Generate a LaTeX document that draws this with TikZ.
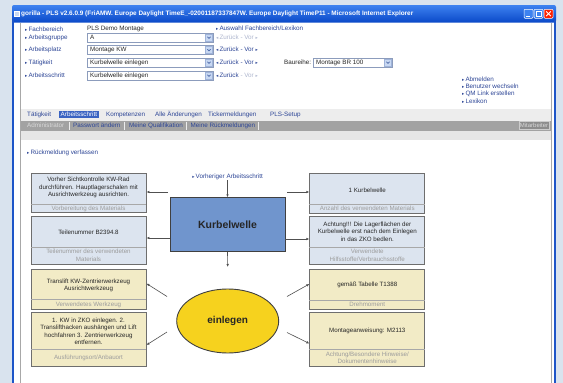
\documentclass[tikz,border=0pt]{standalone}
\usepackage{fontspec}
\setmainfont{Liberation Sans}
\newfontfamily\symf{DejaVu Sans}
\usetikzlibrary{arrows.meta,shapes.geometric}

\definecolor{bgout}{HTML}{D9E3EE}
\definecolor{xpdark}{HTML}{0A48C8}
\definecolor{xplight}{HTML}{3D82F0}
\definecolor{xpborder}{HTML}{1D55C8}
\definecolor{framegray}{HTML}{A8A8A8}
\definecolor{linkc}{HTML}{2C4596}
\definecolor{inact}{HTML}{AEB6CE}
\definecolor{ddline}{HTML}{8C9CBC}
\definecolor{ddbtn}{HTML}{C8D8F2}
\definecolor{ddbtnline}{HTML}{9FB3D9}
\definecolor{chevc}{HTML}{4B68A8}
\definecolor{tabbg}{HTML}{EDEDED}
\definecolor{subbg}{HTML}{A2A2A2}
\definecolor{band3}{HTML}{E6E6E6}
\definecolor{tabsel}{HTML}{3A63C2}
\definecolor{boxblue}{HTML}{DCE4EF}
\definecolor{boxyel}{HTML}{F2EBC6}
\definecolor{boxline}{HTML}{6E6E6E}
\definecolor{capc}{HTML}{9C9C9C}
\definecolor{kblue}{HTML}{7095CD}
\definecolor{eyel}{HTML}{F6D21E}
\definecolor{connc}{HTML}{505050}

\newcommand\mytri{{\symf\fontsize{4.5}{4.5}\selectfont ▸}\,}
\newcommand\mytrl{{\symf\fontsize{4.5}{4.5}\selectfont ◂}\,}

\tikzset{
  ftxt/.style={font=\fontsize{6.3}{7.5}\selectfont, inner sep=0, anchor=west},
  lnk/.style={ftxt, text=linkc},
  plain/.style={ftxt, text=black!85},
  greylnk/.style={ftxt, text=inact},
  ddbox/.style={draw=ddline, fill=white, minimum height=8.6, inner sep=0, anchor=west, line width=0.5},
  ddbtn/.style={draw=ddbtnline, fill=ddbtn, minimum width=7, minimum height=7, inner sep=0, anchor=east, line width=0.4},
  chev/.style={draw=chevc, line width=0.7},
  ibox/.style={draw=boxline, line width=0.9, minimum width=115, inner sep=0},
  divl/.style={draw=boxline!60, line width=0.5},
  mtxt/.style={font=\fontsize{6.2}{7.5}\selectfont, align=center, inner sep=0, text=black!85},
  ctxt/.style={font=\fontsize{6.2}{7.5}\selectfont, align=center, inner sep=0, text=capc},
  conn/.style={draw=connc, line width=0.6, -{Latex[length=3pt,width=2.6pt]}},
  tabt/.style={ftxt, text=linkc},
  tbtn/.style={draw=white, rounded corners=1, minimum width=9, minimum height=9, inner sep=0, line width=0.5},
}

\begin{document}
\begin{tikzpicture}[x=1pt,y=-1pt]
\useasboundingbox (0,0) rectangle (563,383);
\fill[bgout] (0,0) rectangle (563,383);
% window
\fill[white] (12,6) rectangle (556,383);
\shade[top color=xplight, bottom color=xpdark, rounded corners=2] (12,5) rectangle (556,22.5);
\fill[xpborder] (12,20) rectangle (14,383);
\fill[xpborder] (554,20) rectangle (556,383);
\fill[white] (14,22.5) rectangle (554,383);
\draw[framegray, line width=0.6] (20.5,22.5) -- (20.5,383);
\draw[framegray, line width=0.6] (551,22.5) -- (551,383);
% title
\node[fill=ddbtn, draw=white, line width=0.3, minimum size=5.5, inner sep=0] (icon) at (16.5,13.5) {};
\node[anchor=west, inner sep=0, text=white, font=\bfseries\fontsize{6.4}{7.5}\selectfont] (title) at (21,13.5)
  {gorilla - PLS v2.6.0.9 (FriAMW. Europe Daylight TimeE\_-02001187337847W. Europe Daylight TimeP11 - Microsoft Internet Explorer};
\node[tbtn, fill=xplight] (bmin) at (528.5,13.8) {};
\node[tbtn, fill=xplight] (bmax) at (538.5,13.8) {};
\node[tbtn, fill=red!75!orange] (bclose) at (548.5,13.8) {};
\draw[white, line width=0.9] ([xshift=-2.2,yshift=-2.3]bmin.center) -- ([xshift=1,yshift=-2.3]bmin.center);
\draw[white, line width=0.6] ([xshift=-2.5,yshift=-2.5]bmax.center) rectangle ([xshift=2.5,yshift=2.5]bmax.center);
\draw[white, line width=0.9] ([xshift=-2.3,yshift=-2.3]bclose.center) -- ([xshift=2.3,yshift=2.3]bclose.center);
\draw[white, line width=0.9] ([xshift=-2.3,yshift=2.3]bclose.center) -- ([xshift=2.3,yshift=-2.3]bclose.center);

% form rows
\node[lnk] (l1) at (25,29) {\mytri Fachbereich};
\node[plain] (v1) at (87,29) {PLS Demo Montage};
\node[lnk] (aus) at (216,28.5) {\mytri Auswahl Fachbereich/Lexikon};

\node[lnk] (l2) at (25,37.5) {\mytri Arbeitsgruppe};
\node[ddbox, minimum width=126] (dd2) at (87,37.5) {};
\node[ddbtn] (db2) at ([xshift=-0.8]dd2.east) {};
\draw[chev] ([xshift=-1.6,yshift=0.7]db2.center) -- ([yshift=-0.9]db2.center) -- ([xshift=1.6,yshift=0.7]db2.center);
\node[plain] (t2) at ([xshift=3]dd2.west) {A};
\node[greylnk] (z2) at (216,37) {\mytrl Zurück - Vor \mytri};

\node[lnk] (l3) at (25,50) {\mytri Arbeitsplatz};
\node[ddbox, minimum width=126] (dd3) at (87,50) {};
\node[ddbtn] (db3) at ([xshift=-0.8]dd3.east) {};
\draw[chev] ([xshift=-1.6,yshift=0.7]db3.center) -- ([yshift=-0.9]db3.center) -- ([xshift=1.6,yshift=0.7]db3.center);
\node[plain] (t3) at ([xshift=3]dd3.west) {Montage KW};
\node[lnk] (z3) at (216,49.5) {\mytrl Zurück - Vor \mytri};

\node[lnk] (l4) at (25,62.5) {\mytri Tätigkeit};
\node[ddbox, minimum width=126] (dd4) at (87,62.5) {};
\node[ddbtn] (db4) at ([xshift=-0.8]dd4.east) {};
\draw[chev] ([xshift=-1.6,yshift=0.7]db4.center) -- ([yshift=-0.9]db4.center) -- ([xshift=1.6,yshift=0.7]db4.center);
\node[plain] (t4) at ([xshift=3]dd4.west) {Kurbelwelle einlegen};
\node[lnk] (z4) at (216,62.5) {\mytrl Zurück - Vor \mytri};
\node[plain] (bl) at (284,62.5) {Baureihe:};
\node[ddbox, minimum width=79] (ddb) at (313,62.5) {};
\node[ddbtn] (dbb) at ([xshift=-0.8]ddb.east) {};
\draw[chev] ([xshift=-1.6,yshift=0.7]dbb.center) -- ([yshift=-0.9]dbb.center) -- ([xshift=1.6,yshift=0.7]dbb.center);
\node[plain] (tb) at ([xshift=3]ddb.west) {Montage BR 100};

\node[lnk] (l5) at (25,75.5) {\mytri Arbeitsschritt};
\node[ddbox, minimum width=126] (dd5) at (87,75.5) {};
\node[ddbtn] (db5) at ([xshift=-0.8]dd5.east) {};
\draw[chev] ([xshift=-1.6,yshift=0.7]db5.center) -- ([yshift=-0.9]db5.center) -- ([xshift=1.6,yshift=0.7]db5.center);
\node[plain] (t5) at ([xshift=3]dd5.west) {Kurbelwelle einlegen};
\node[lnk] (z5) at (216,75.5) {\mytrl Zurück \textcolor{inact}{- Vor \mytri}};

\node[lnk] (r1) at (462,79) {\mytri Abmelden};
\node[lnk] (r2) at (462,86.6) {\mytri Benutzer wechseln};
\node[lnk] (r3) at (462,94) {\mytri QM Link erstellen};
\node[lnk] (r4) at (462,101.4) {\mytri Lexikon};

% tab bands
\fill[tabbg] (21,108.5) rectangle (550.5,120.5);
\fill[subbg] (21,120.5) rectangle (550.5,130.5);
\fill[band3] (21,130.5) rectangle (550.5,140);
\node[tabt] (tb1) at (27,114.6) {Tätigkeit};
\node[fill=tabsel, text=white, font=\fontsize{6.3}{7.5}\selectfont, inner xsep=1.5, inner ysep=1.2, anchor=west] (tb2) at (59,114.6) {Arbeitsschritt};
\node[tabt] (tb3) at (106,114.6) {Kompetenzen};
\node[tabt] (tb4) at (155,114.6) {Alle Änderungen};
\node[tabt] (tb5) at (208,114.6) {Tickermeldungen};
\node[tabt] (tb6) at (270,114.6) {PLS-Setup};

\node[ftxt, text=black!15] (s1) at (27,125.5) {Administrator};
\node[tabt] (s2) at (73,125.5) {Passwort ändern};
\node[tabt] (s3) at (129,125.5) {Meine Qualifikation};
\node[tabt] (s4) at (190.5,125.5) {Meine Rückmeldungen};
\foreach \sx in {69,124,186,258} \draw[white!85!gray, line width=0.6] (\sx,121.5) -- (\sx,129.5);
\node[fill=black!45, draw=black!20, line width=0.5, text=black!15, font=\fontsize{6}{7}\selectfont, minimum width=30, minimum height=8, inner sep=0] (mit) at (534,125.5) {Mitarbeiter};

\node[lnk] (rv) at (27,153) {\mytri Rückmeldung verfassen};

% diagram
\node[ftxt, anchor=center, text=linkc] (prev) at (227.7,177) {\mytri Vorheriger Arbeitsschritt};
\node[draw=black!75, line width=0.9, fill=kblue, minimum width=115, minimum height=54, inner sep=0,
      font=\bfseries\fontsize{10.5}{12}\selectfont, text=black!85] (K) at (227.5,224.7) {Kurbelwelle};
\node[ellipse, draw=black!75, line width=0.9, fill=eyel, minimum width=102, minimum height=64, inner sep=0,
      font=\bfseries\fontsize{10}{12}\selectfont, text=black!85] (E) at (227.7,321) {einlegen};

% left boxes
\node[ibox, fill=boxblue, minimum height=39.1] (L1) at (88.5,193.15) {};
\draw[divl] (L1.west |- 0,204) -- (L1.east |- 0,204);
\node[mtxt] (L1t) at (88.5,187.5) {Vorher Sichtkontrolle KW-Rad\\durchführen. Hauptlagerschalen mit\\Ausrichtwerkzeug ausrichten.};
\node[ctxt] (L1c) at (88.5,208.6) {Vorbereitung des Materials};

\node[ibox, fill=boxblue, minimum height=48] (L2) at (88.5,240) {};
\draw[divl] (L2.west |- 0,247) -- (L2.east |- 0,247);
\node[mtxt] (L2t) at (88.5,232) {Teilenummer B2394.8};
\node[ctxt] (L2c) at (88.5,255.5) {Teilenummer des verwendeten\\Materials};

\node[ibox, fill=boxyel, minimum height=40] (L3) at (88.5,289.3) {};
\draw[divl] (L3.west |- 0,299.5) -- (L3.east |- 0,299.5);
\node[mtxt] (L3t) at (88.5,285.3) {Translift KW-Zentrierwerkzeug\\Ausrichtwerkzeug};
\node[ctxt] (L3c) at (88.5,304.5) {Verwendetes Werkzeug};

\node[ibox, fill=boxyel, minimum height=54.7] (L4) at (88.5,339.35) {};
\draw[divl] (L4.west |- 0,349.3) -- (L4.east |- 0,349.3);
\node[mtxt] (L4t) at (88.5,331.5) {1. KW in ZKO einlegen. 2.\\Translifthacken aushängen und Lift\\hochfahren 3. Zentrierwerkzeug\\entfernen.};
\node[ctxt] (L4c) at (88.5,358.2) {Ausführungsort/Anbauort};

% right boxes
\node[ibox, fill=boxblue, minimum height=39.7] (R1) at (367.3,193.45) {};
\draw[divl] (R1.west |- 0,204) -- (R1.east |- 0,204);
\node[mtxt] (R1t) at (367.3,190.3) {1 Kurbelwelle};
\node[ctxt] (R1c) at (367.3,208.7) {Anzahl des verwendeten Materials};

\node[ibox, fill=boxblue, minimum height=48] (R2) at (367.3,240) {};
\draw[divl] (R2.west |- 0,247) -- (R2.east |- 0,247);
\node[mtxt] (R2t) at (367.3,231.3) {Achtung!!! Die Lagerflächen der\\Kurbelwelle erst nach dem Einlegen\\in das ZKO bedlen.};
\node[ctxt] (R2c) at (367.3,255.5) {Verwendete\\Hilfsstoffe/Verbrauchsstoffe};

\node[ibox, fill=boxyel, minimum height=40] (R3) at (367.3,289.3) {};
\draw[divl] (R3.west |- 0,300) -- (R3.east |- 0,300);
\node[mtxt] (R3t) at (367.3,284.4) {gemäß Tabelle T1388};
\node[ctxt] (R3c) at (367.3,304.7) {Drehmoment};

\node[ibox, fill=boxyel, minimum height=54.7] (R4) at (367.3,339.35) {};
\draw[divl] (R4.west |- 0,349.3) -- (R4.east |- 0,349.3);
\node[mtxt] (R4t) at (367.3,331) {Montageanweisung: M2113};
\node[ctxt] (R4c) at (367.3,358) {Achtung/Besondere Hinweise/\\Dokumentenhinweise};

% connectors
\draw[conn] (K.north |- prev.south) -- (K.north);
\coordinate (kdown) at (227.7,267);
\draw[conn] (K.south) -- (kdown);
\coordinate (c1) at (168,192);
\draw[conn] (c1) -- (L1.east |- c1);
\coordinate (c3) at (287,192);
\draw[conn] (c3) -- (R1.west |- c3);
\draw[conn] (K.west |- 0,238) -- (L2.east |- 0,238);
\draw[conn] (K.east |- 0,239) -- (R2.west |- 0,239);
\coordinate (d1) at (167,296.5);
\draw[conn] (d1) -- (L3.east |- 0,283.5);
\coordinate (d2) at (167,332);
\draw[conn] (d2) -- (L4.east |- 0,345);
\coordinate (d3) at (287,296.5);
\draw[conn] (d3) -- (R3.west |- 0,284);
\coordinate (d4) at (287,332.5);
\draw[conn] (d4) -- (R4.west |- 0,343.5);
\end{tikzpicture}
\end{document}
